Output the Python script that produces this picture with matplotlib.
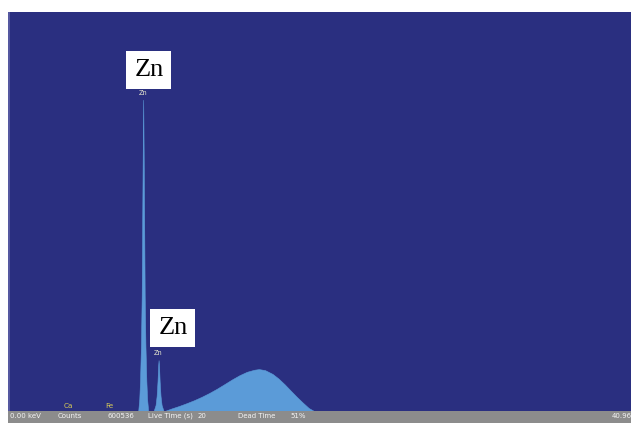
import matplotlib.pyplot as plt
from matplotlib.patches import Rectangle

# spectrum: energy (keV) vs counts
energy_kev = [0.0, 8.30, 8.37, 8.42, 8.48, 8.53, 8.56, 8.60, 8.63, 8.66, 8.70, 8.73,
              8.78, 8.84, 8.89, 8.96, 9.32, 9.45, 9.52, 9.58, 9.62, 9.65, 9.68, 9.72,
              9.78, 9.85, 9.98, 10.05, 10.5, 11.0, 11.5, 12.0, 12.5, 13.0, 13.5, 14.0,
              14.5, 15.0, 15.5, 16.0, 16.3, 16.7, 17.2, 17.6, 18.0, 18.4, 18.8, 19.2,
              19.6, 19.95, 40.96]
counts = [0, 0, 120, 300, 650, 1150, 1800, 2600, 3120, 2600, 1800, 1150,
          650, 300, 120, 0, 0, 60, 150, 300, 450, 510, 450, 300,
          150, 60, 0, 0, 25, 50, 78, 108, 142, 180, 222, 268,
          315, 358, 393, 414, 420, 410, 372, 325, 268, 205, 143, 85,
          30, 0, 0]

# element markers
marker_names = ["Ca", "Fe", "Zn", "Zn"]
marker_kev = [3.69, 6.40, 8.63, 9.65]
marker_counts = [50, 50, 3190, 580]

# big callouts
callout_text = ["Zn", "Zn"]
callout_kev = [9.01, 10.60]
callout_counts = [3420, 830]

# status bar
status_labels = ["0.00 keV", "Counts", "600536", "Live Time (s)", "20", "Dead Time", "51%", "40.96"]
status_px = [10, 58, 108, 148, 198, 238, 290, 612]

W, H = 631, 423
BG = "#2a2f80"
FILL = "#5b9bd8"

fig = plt.figure(figsize=(W / 100, H / 100), dpi=100, facecolor="white")
ax = fig.add_axes([8 / W, 12 / H, 623 / W, 399 / H])
ax.set_facecolor(BG)
ax.fill_between(energy_kev, counts, 0, color=FILL, lw=0.4, edgecolor=FILL)
ax.set_xlim(-0.33, 40.96)
ax.set_ylim(0, 4000)
ax.set_xticks([])
ax.set_yticks([])
for s in ax.spines.values():
    s.set_visible(False)

for name, e, c in zip(marker_names, marker_kev, marker_counts):
    if name == "Zn":
        ax.text(e, c, name, color="#e8e8d0", fontsize=4.8, ha="center", va="center")
    else:
        ax.text(e, c, name, color="#d8cc58", fontsize=5.2, ha="center", va="center")

for t, e, c in zip(callout_text, callout_kev, callout_counts):
    ax.text(e, c, t, fontsize=19, family="Liberation Serif", color="black",
            ha="center", va="center",
            bbox=dict(facecolor="white", edgecolor="none", boxstyle="square,pad=0.3"))

# lighter stripe on the left edge of the plot
fig.patches.append(Rectangle((8 / W, 12 / H), 2 / W, 399 / H, transform=fig.transFigure,
                             facecolor="#5558a0", edgecolor="none"))
# grey status bar
fig.patches.append(Rectangle((8 / W, 0), 623 / W, 12 / H, transform=fig.transFigure,
                             facecolor="#8c8c8c", edgecolor="none"))
for lab, px in zip(status_labels, status_px):
    fig.text(px / W, (H - 416) / H, lab, color="#f4f4f4", fontsize=5.0,
             ha="left", va="center")

fig.savefig("out.png", dpi=100, facecolor="white")
